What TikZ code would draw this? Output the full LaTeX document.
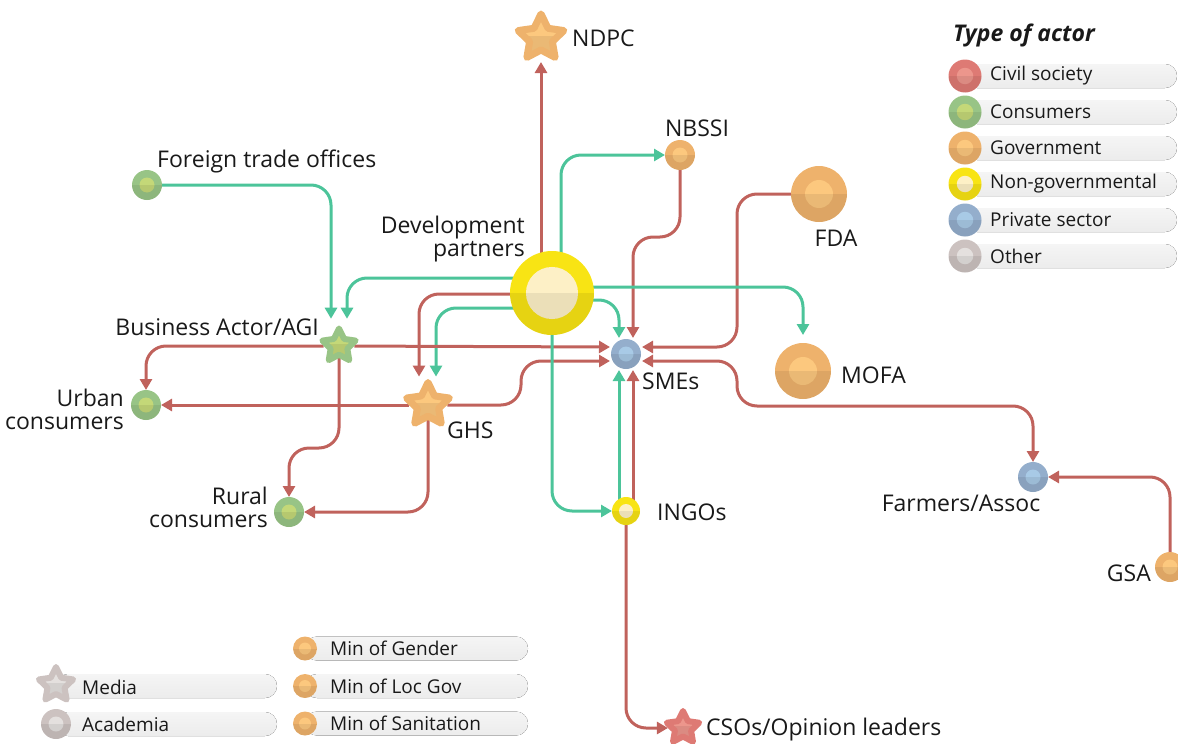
\documentclass[tikz,border=0pt]{standalone}
\usepackage{fontspec}
\setmainfont{Open Sans}
\usetikzlibrary{positioning, calc, shapes.geometric, arrows.meta, backgrounds}

\definecolor{linered}{RGB}{192,98,92}
\definecolor{linegreen}{RGB}{76,196,154}
\definecolor{civout}{RGB}{222,122,116}
\definecolor{civin}{RGB}{236,150,140}
\definecolor{consout}{RGB}{152,196,134}
\definecolor{consin}{RGB}{196,216,120}
\definecolor{govout}{RGB}{238,178,108}
\definecolor{govin}{RGB}{252,200,126}
\definecolor{ngoout}{RGB}{248,228,20}
\definecolor{ngoin}{RGB}{253,240,198}
\definecolor{privout}{RGB}{148,174,204}
\definecolor{privin}{RGB}{168,202,230}
\definecolor{othout}{RGB}{204,194,192}
\definecolor{othin}{RGB}{228,224,222}
\definecolor{barhi}{RGB}{245,245,245}
\definecolor{barlo}{RGB}{236,236,236}

\def\coreratio{.5}
\tikzset{
  core/.code={\def\coreratio{#1}},
  actor/.style 2 args={circle, inner sep=0pt, outer sep=0pt, fill=#1,
    path picture={
      \fill[#2] let \p1=(path picture bounding box.east), \p2=(path picture bounding box.center)
        in (\p2) circle ({\coreratio*(\x1-\x2)});
      \fill[black, opacity=.07] (path picture bounding box.west) rectangle (path picture bounding box.south east);
    }},
  astar/.style 2 args={star, star points=5, star point ratio=2, inner sep=0pt,
    draw=#1, fill=#2, line width=7pt, line join=round,
    path picture={\fill[black, opacity=.07] (path picture bounding box.west) rectangle (path picture bounding box.south east);}},
  civ/.style={actor={civout}{civin}},
  cons/.style={actor={consout}{consin}},
  gov/.style={actor={govout}{govin}},
  ngo/.style={actor={ngoout}{ngoin}},
  priv/.style={actor={privout}{privin}},
  oth/.style={actor={othout}{othin}},
  civstar/.style={astar={civout}{civin}},
  consstar/.style={astar={consout}{consin}},
  govstar/.style={astar={govout}{govin}},
  othstar/.style={astar={othout}{othin}}
}

\begin{document}
\begin{tikzpicture}[x=1pt, y=-1pt, >={Triangle[length=11pt,width=12pt]},
    lbl/.style={font=\fontsize{23}{23}\selectfont, inner sep=0pt, text=black!90},
    key/.style={font=\fontsize{19}{20}\selectfont, inner sep=0pt, anchor=west, text=black!90},
    rl/.style={draw=linered, line width=3pt, rounded corners=20pt, ->},
    gl/.style={rl, draw=linegreen},
    bar/.style={rounded corners=12pt, top color=barhi, bottom color=barlo}]
  \useasboundingbox (0,0) rectangle (1178,744);

  % actors
  \node[ngo, core=.62, minimum size=84pt] (dev) at (552,293) {};
  \node[govstar, minimum size=48pt] (ndpc) at (541,38) {};
  \node[gov, minimum size=30pt] (nbssi) at (680,155) {};
  \node[gov, minimum size=56pt] (fda) at (819,194) {};
  \node[gov, minimum size=56pt] (mofa) at (803,371) {};
  \node[priv, minimum size=30pt] (smes) at (626,354) {};
  \node[ngo, minimum size=28pt] (ingos) at (626,511) {};
  \node[civstar, minimum size=34pt, line width=6pt] (csos) at (683,728) {};
  \node[priv, minimum size=30pt] (farm) at (1033,477) {};
  \node[gov, minimum size=30pt] (gsa) at (1170,567) {};
  \node[consstar, minimum size=35pt, line width=6pt] (agi) at (339,346) {};
  \node[govstar, minimum size=45pt] (ghs) at (428,405) {};
  \node[cons, minimum size=30pt] (urban) at (146,405) {};
  \node[cons, minimum size=30pt] (rural) at (289,512) {};
  \node[cons, minimum size=30pt] (fto) at (147,185) {};

  % labels
  \node[lbl, anchor=east, align=right] (devl) at ($(dev)+(-27,-54)$) {Development\\partners};
  \node[lbl, anchor=west] (ndpcl) at ($(ndpc)+(31,0)$) {NDPC};
  \node[lbl] (nbssil) at ($(nbssi)+(17,-27)$) {NBSSI};
  \node[lbl] (fdal) at ($(fda)+(17,44)$) {FDA};
  \node[lbl, anchor=west] (mofal) at ($(mofa)+(38,4)$) {MOFA};
  \node[lbl, anchor=west] (smesl) at ($(smes)+(16,27)$) {SMEs};
  \node[lbl, anchor=west] (ingosl) at ($(ingos)+(31,1)$) {INGOs};
  \node[lbl, anchor=west] (csosl) at ($(csos)+(23,2)$) {CSOs/Opinion leaders};
  \node[lbl] (farml) at ($(farm)+(-72,26)$) {Farmers/Assoc};
  \node[lbl, anchor=east] (gsal) at ($(gsa)+(-19,6)$) {GSA};
  \node[lbl, anchor=east] (agil) at ($(agi)+(-20,-19)$) {Business Actor/AGI};
  \node[lbl, anchor=west] (ghsl) at ($(ghs)+(19,25)$) {GHS};
  \node[lbl, anchor=east, align=right] (urbanl) at ($(urban)+(-22,4)$) {Urban\\consumers};
  \node[lbl, anchor=east, align=right] (rurall) at ($(rural)+(-21,-5)$) {Rural\\consumers};
  \node[lbl, anchor=west] (ftol) at ($(fto)+(10,-24)$) {Foreign trade offices};

  % connectors
  \begin{pgfonlayer}{background}
    \draw[rl] (ndpc |- dev) -- ($(ndpc)+(0,24)$);
    \draw[gl] ($(dev)+(9,0)$) |- (nbssi.west);
    \draw[rl] (nbssi) |- ($(smes.north)+(7,-102)$) -- ($(smes.north)+(7,-1)$);
    \draw[rl] (fda) -| ($(smes.east)+(96,-7)$) -- ($(smes.east)+(1,-7)$);
    \draw[rl, <->] ($(smes.east)+(1,7)$) -| ($(smes.east)+(96,52)$) -| (farm.north);
    \draw[rl] (gsa) |- (farm.east);
    \draw[gl] ($(dev)+(0,-6)$) -| ($(mofa.north)+(0,-8)$);
    \draw[gl] ($(dev)+(0,7)$) -| ($(smes.north)+(-7,-1)$);
    \draw[gl] ($(dev)+(0,-15)$) -| ($(agi.north)+(8,-3)$);
    \draw[gl] (fto) -| ($(agi.north)+(-8,-3)$);
    \draw[rl] ($(dev)+(0,1)$) -| ($(ghs.north)+(-9,2)$);
    \draw[gl] ($(dev)+(0,15)$) -| ($(ghs.north)+(8,2)$);
    \draw[rl] (agi) -- ($(smes.west)+(-1,-7)$);
    \draw[rl] (agi) -| (urban.north);
    \draw[rl] (agi) |- ($(rural.north)+(0,-49)$) -- (rural.north);
    \draw[rl] (ghs) -- (urban.east |- ghs);
    \draw[rl] (ghs) -| ($(smes.west)+(-90,7)$) -- ($(smes.west)+(-1,7)$);
    \draw[rl] (ghs) |- (rural.east);
    \draw[gl] (dev) |- (ingos.west);
    \draw[gl] ($(ingos)+(-7,0)$) -- ($(smes.south)+(-7,1)$);
    \draw[rl] ($(ingos)+(7,0)$) -- ($(smes.south)+(7,1)$);
    \draw[rl] (ingos) |- (csos.west);
  \end{pgfonlayer}

  % legend: type of actor
  \node[key, font=\fontsize{23}{24}\selectfont\bfseries\itshape] (legt) at (953,35) {Type of actor};
  \foreach \txt/\typ [count=\i] in {Civil society/civ, Consumers/cons, Government/gov,
      Non-governmental/ngo, Private sector/priv, Other/oth}{
    \fill[bar] (965,40+36*\i-12) rectangle (1177,40+36*\i+12);
    \node[\typ, minimum size=33pt] (leg\i) at (965,40+36*\i) {};
    \node[key] (legl\i) at (990,40+36*\i) {\txt};
  }

  % legend: other actors
  \fill[bar] (56,674) rectangle (277,698);
  \fill[bar] (56,712) rectangle (277,736);
  \node[othstar, minimum size=36pt, line width=6pt] (media) at (56,685) {};
  \node[oth, minimum size=30pt] (acad) at (56,724) {};
  \node[key] (medial) at (82,687) {Media};
  \node[key] (acadl) at (82,724) {Academia};
  \foreach \txt [count=\i] in {Min of Gender, Min of Loc Gov, Min of Sanitation}{
    \fill[bar] (305,611+37.5*\i-12) rectangle (528,611+37.5*\i+12);
    \node[gov, minimum size=24pt] (min\i) at (305,611+37.5*\i) {};
    \node[key] (minl\i) at (330,611+37.5*\i) {\txt};
  }
\end{tikzpicture}
\end{document}
